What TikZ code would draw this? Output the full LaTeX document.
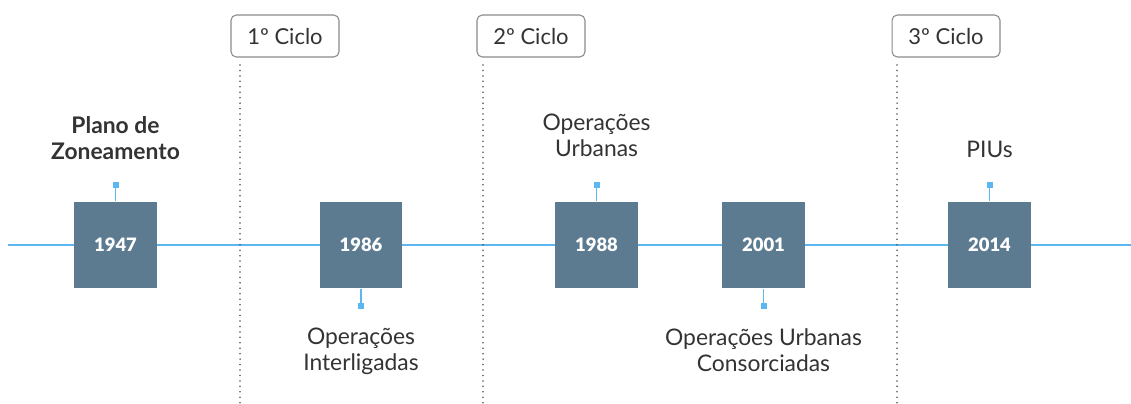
\documentclass[tikz,border=0pt]{standalone}
\usepackage{fontspec}
\setmainfont{Lato}
\newfontfamily\yearfont{Lato Black}
\usetikzlibrary{positioning}
\definecolor{boxblue}{HTML}{5C7B90}
\definecolor{lineblue}{HTML}{5CB6EF}
\definecolor{txtgray}{HTML}{333333}
\definecolor{dotgray}{HTML}{555555}
\definecolor{framegray}{HTML}{8A8A8A}
\begin{document}
\begin{tikzpicture}[x=0.02cm, y=-0.02cm,
	yearbox/.style={fill=boxblue, minimum width=1.66cm, minimum height=1.73cm, inner sep=0pt, text=white, font=\fontsize{10.5}{12}\yearfont},
	marksq/.style={fill=lineblue, minimum size=0.12cm, inner sep=0pt},
	stem/.style={lineblue, line width=0.9pt},
	cycle/.style={draw=framegray, line width=0.6pt, rounded corners=3pt, minimum width=2.16cm, minimum height=0.84cm, inner sep=0pt, text=txtgray, font=\fontsize{12.5}{14}\selectfont},
	dotline/.style={dotgray, line width=1pt, line cap=round, dash pattern=on 0pt off 3.1pt},
	event/.style={align=center, text=txtgray, font=\fontsize{13}{15}\selectfont}]
	\useasboundingbox (0,0) rectangle (1131,403);
	
	%timeline
	\coordinate (L) at (8,245);
	\coordinate (R) at (1131,245);
	\draw[lineblue, line width=1.1pt] (L) -- (R);
	
	%cycles
	\node[cycle] (c1) at (285,36) {1º Ciclo};
	\node[cycle] (c2) at (531,36) {2º Ciclo};
	\node[cycle] (c3) at (946,36) {3º Ciclo};
	\coordinate (c1t) at (240,65);  \coordinate (c1b) at (240,403);
	\coordinate (c2t) at (483,65);  \coordinate (c2b) at (483,403);
	\coordinate (c3t) at (897,65);  \coordinate (c3b) at (897,403);
	\draw[dotline] (c1t) -- (c1b);
	\draw[dotline] (c2t) -- (c2b);
	\draw[dotline] (c3t) -- (c3b);
	
	%1947
	\node[yearbox] (y1) at (115.5,245) {1947};
	\node[marksq] (m1) at (115.5,185) {};
	\draw[stem] (m1) -- (y1.north);
	\node[event, font=\fontsize{13}{15}\selectfont\bfseries] (e1) at (115.5,138) {Plano de\\Zoneamento};
	
	%1986
	\node[yearbox] (y2) at (361,245) {1986};
	\node[marksq] (m2) at (361,306) {};
	\draw[stem] (m2) -- (y2.south);
	\node[event] (e2) at (361,351) {Operações\\Interligadas};
	
	%1988
	\node[yearbox] (y3) at (596.5,245) {1988};
	\node[marksq] (m3) at (596.5,185) {};
	\draw[stem] (m3) -- (y3.north);
	\node[event] (e3) at (596.5,135) {Operações\\Urbanas};
	
	%2001
	\node[yearbox] (y4) at (763.5,245) {2001};
	\node[marksq] (m4) at (763.5,306) {};
	\draw[stem] (m4) -- (y4.south);
	\node[event] (e4) at (763.5,350) {Operações Urbanas\\Consorciadas};
	
	%2014
	\node[yearbox] (y5) at (989.5,245) {2014};
	\node[marksq] (m5) at (989.5,185) {};
	\draw[stem] (m5) -- (y5.north);
	\node[event] (e5) at (989.5,149) {PIUs};
\end{tikzpicture}
\end{document}
